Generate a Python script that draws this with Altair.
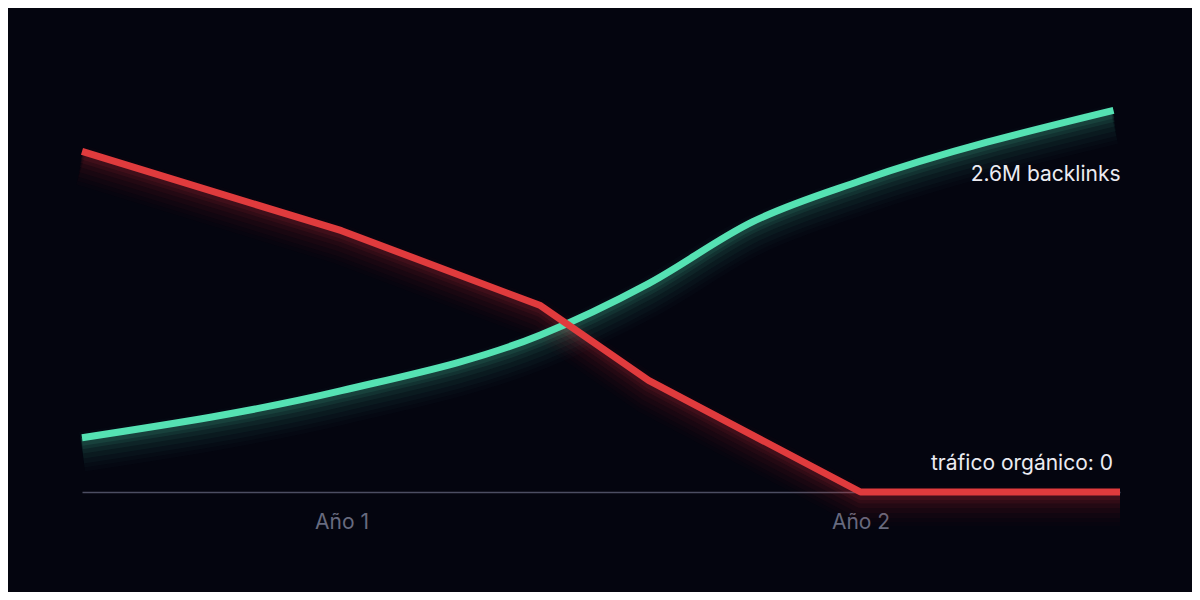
import altair as alt
import pandas as pd

# --- data ---
meses_rojo = [6, 12, 16.6, 19.1, 24, 30]
trafico = [2.32, 1.78, 1.27, 0.76, 0.0, 0.0]

meses_verde = [6, 12, 16.6, 19.1, 21.5, 24, 29.85]
backlinks = [0.37, 0.69, 1.07, 1.42, 1.84, 2.12, 2.6]

ticks_x = [12, 24]
tick_labels = ["Año 1", "Año 2"]

etiqueta_verde = "2.6M backlinks"
etiqueta_roja = "tráfico orgánico: 0"

BG = "#04050f"
RED = "#e03b3d"
GREEN = "#55e2b3"
FONT = "Inter"

df_r = pd.DataFrame({"mes": meses_rojo, "valor": trafico})
df_g = pd.DataFrame({"mes": meses_verde, "valor": backlinks})

label_expr = (f"datum.value == {ticks_x[0]} ? '{tick_labels[0]}' : "
              f"(datum.value == {ticks_x[1]} ? '{tick_labels[1]}' : '')")

x = alt.X("mes:Q",
          scale=alt.Scale(domain=[6, 30], nice=False, zero=False),
          axis=alt.Axis(values=ticks_x, labelExpr=label_expr, title=None,
                        grid=False, ticks=False, domain=True,
                        domainColor="#4c4e62", domainWidth=1.5,
                        labelColor="#676a7e", labelFontSize=21, labelFont=FONT,
                        labelPadding=19, labelBaseline="top"))
y = alt.Y("valor:Q", scale=alt.Scale(domain=[0, 2.8], nice=False), axis=None)

# glow layers: (stroke width, opacity, downward offset)
GLOW = [(40, 0.018, 14), (34, 0.022, 13), (28, 0.03, 12), (22, 0.04, 10),
        (16, 0.055, 8), (11, 0.075, 6), (8, 0.09, 4)]


def glow(df, color, interp):
    layers = []
    for sw, op, off in GLOW:
        layers.append(
            alt.Chart(df).mark_line(color=color, strokeWidth=sw, opacity=op,
                                    yOffset=off, strokeCap="butt", strokeJoin="round",
                                    interpolate=interp, clip=False)
            .encode(x=x, y=y)
        )
    return layers


red_main = alt.Chart(df_r).mark_line(color=RED, strokeWidth=7, strokeCap="butt",
                                     strokeJoin="round", interpolate="linear",
                                     clip=False).encode(x=x, y=y)
green_main = alt.Chart(df_g).mark_line(color=GREEN, strokeWidth=7, strokeCap="butt",
                                       strokeJoin="round", interpolate="monotone",
                                       clip=False).encode(x=x, y=y)

txt_g = alt.Chart(df_g.tail(1)).mark_text(
    text=etiqueta_verde, align="right", baseline="middle", dx=7, dy=65,
    fontSize=21, font=FONT, color="#ececf2"
).encode(x=x, y=y)

txt_r = alt.Chart(df_r.tail(1)).mark_text(
    text=etiqueta_roja, align="right", baseline="middle", dx=-7, dy=-28,
    fontSize=21, font=FONT, color="#ececf2"
).encode(x=x, y=y)

chart = alt.layer(
    *glow(df_r, RED, "linear"),
    *glow(df_g, GREEN, "monotone"),
    green_main,
    red_main,
    txt_g,
    txt_r,
).properties(
    width=1038, height=411,
    padding={"left": 74, "top": 73, "right": 72, "bottom": 100},
    autosize=alt.AutoSizeParams(type="none"),
    background=BG,
).configure_view(stroke=None)

chart.save("out.html", embed_options={"renderer": "svg", "actions": False})
